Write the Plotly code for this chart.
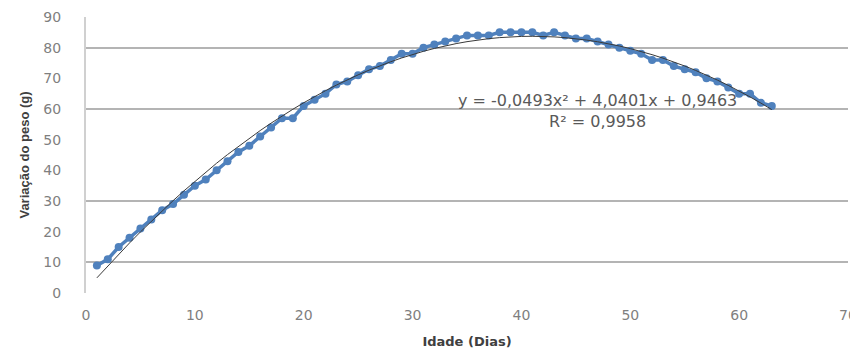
import plotly.graph_objects as go

idade = list(range(1, 64))
peso = [9, 11, 15, 18, 21, 24, 27, 29, 32, 35,
        37, 40, 43, 46, 48, 51, 54, 57, 57, 61,
        63, 65, 68, 69, 71, 73, 74, 76, 78, 78,
        80, 81, 82, 83, 84, 84, 84, 85, 85, 85,
        85, 84, 85, 84, 83, 83, 82, 81, 80, 79,
        78, 76, 76, 74, 73, 72, 70, 69, 67, 65,
        65, 62, 61]

# polynomial trendline coefficients as printed on the chart (a, b, c)
trend_coef = [-0.0493, 4.0401, 0.9463]
trend_label = "y = -0,0493x² + 4,0401x + 0,9463<br>R² = 0,9958"

x_ticks = [0, 10, 20, 30, 40, 50, 60, 70]
y_ticks = [0, 10, 20, 30, 40, 50, 60, 70, 80, 90]
grid_lines = [10, 30, 60, 80, 90]

trend_y = [trend_coef[0] * v * v + trend_coef[1] * v + trend_coef[2] for v in idade]

fig = go.Figure()
fig.add_trace(go.Scatter(
    x=[None], y=[None], yaxis="y2", showlegend=False, hoverinfo="skip"))
fig.add_trace(go.Scatter(
    x=idade, y=peso, mode="lines+markers",
    line=dict(color="#4F81BD", width=3.5),
    marker=dict(color="#4F81BD", size=8),
    showlegend=False, hoverinfo="skip"))
fig.add_trace(go.Scatter(
    x=idade, y=trend_y, mode="lines",
    line=dict(color="#3a3a3a", width=1),
    showlegend=False, hoverinfo="skip"))

fig.add_annotation(
    x=47.0, y=59.3, xref="x", yref="y", text=trend_label, showarrow=False,
    align="center", font=dict(family="DejaVu Sans", size=16, color="#595959"),
    yanchor="middle", xanchor="center")

tickfont = dict(family="DejaVu Sans", size=14, color="#7f7f7f")

# page body adds an 8px offset; margins compensate so the plot area sits at 86..848 x 17..293
fig.update_layout(
    width=850, height=341,
    margin=dict(l=78, r=10, t=9, b=56),
    paper_bgcolor="white", plot_bgcolor="white",
    xaxis=dict(range=[0, 70], tickvals=x_ticks, showgrid=False, zeroline=False,
               showline=False, ticks="", tickfont=tickfont, automargin=False,
               ticklabelstandoff=12,
               title=dict(text="<b>Idade (Dias)</b>", standoff=21,
                          font=dict(family="DejaVu Sans", size=13, color="#404040"))),
    yaxis=dict(range=[0, 90], tickvals=y_ticks, showgrid=False, zeroline=False,
               showline=True, linecolor="#d0d0d0", linewidth=2, ticks="",
               tickfont=tickfont, ticklabelstandoff=20, automargin=False,
               title=dict(text="<b>Variação do peso (g)</b>", standoff=11,
                          font=dict(family="Liberation Sans", size=13, color="#404040"))),
    yaxis2=dict(range=[0, 90], overlaying="y", tickvals=grid_lines, showgrid=True,
                gridcolor="#b4b4b4", gridwidth=2, showticklabels=False,
                zeroline=False, showline=False, ticks="", automargin=False),
)

fig.write_html("out.html")
